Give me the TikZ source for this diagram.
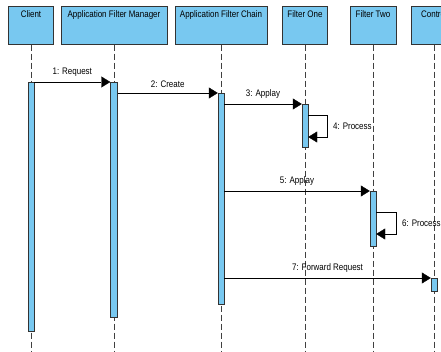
\documentclass[tikz,border=0pt]{standalone}
\usepackage{fontspec}
\setmainfont[FakeStretch=0.84]{Liberation Sans}
\usetikzlibrary{arrows.meta}
\usetikzlibrary{positioning}
\definecolor{lifeblue}{RGB}{120,200,240}

\begin{document}
\begin{tikzpicture}[x=1pt,y=-1pt,>={Triangle[length=9pt,width=11pt]},font=\fontsize{9.5}{11}\selectfont]
 \tikzstyle{head node}=[rectangle,draw=black!80,fill=lifeblue,semithick,minimum height=38pt,inner xsep=2pt,inner ysep=0pt,text height=11.5pt,text depth=26.5pt,anchor=north]
 \tikzstyle{act node}=[rectangle,draw=black!80,fill=lifeblue,minimum width=6pt,inner sep=0pt,anchor=north]
 \tikzset{
 	life line/.style={draw=black!75,thin,dash pattern=on 6pt off 3pt},
 	msg/.style={->,draw=black,thin},
 	msg label/.style={above=4pt,inner sep=1pt},
 	loop label/.style={anchor=west,inner sep=1pt}
 }
 \useasboundingbox (0,0) rectangle (441,352);
 \clip (0,0) rectangle (441,352);

       \node[head node,minimum width=45pt] (client) at (31,6) {Client};
       \node[head node,minimum width=106pt] (manager) at (114,6) {Application Filter Manager};
       \node[head node,minimum width=92pt] (chain) at (221,6) {Application Filter Chain};
       \node[head node,minimum width=45pt] (one) at (305,6) {Filter One};
       \node[head node,minimum width=46pt] (two) at (373,6) {Filter Two};
       \node[head node,minimum width=45pt] (control) at (434,6) {Control};

     \foreach \obj in {client,manager,chain,one,two,control}
       \draw[life line] (\obj.south) -- (\obj.south |- 0,352);

       \node[act node,minimum height=249pt] (clientact) at (31,82) {};
       \node[act node,minimum width=7pt,minimum height=235pt] (manageract) at (114,82) {};
       \node[act node,minimum height=211pt] (chainact) at (221,93) {};
       \node[act node,minimum height=43pt] (oneact) at (305,104) {};
       \node[act node,minimum height=55pt] (twoact) at (373,191) {};
       \node[act node,minimum height=13pt] (controlact) at (434,278) {};

     \draw[msg] (clientact.north east) -- node[msg label] {1: Request} (manageract.north west);
     \draw[msg] (manageract.east |- chainact.north) -- node[msg label] {2: Create} (chainact.north west);
     \draw[msg] (chainact.east |- oneact.north) -- node[msg label] {3: Applay} (oneact.north west);
     \draw[msg] (oneact.east |- 0,115) -- (327,115) -- node[loop label,right=5pt] {4: Process} (327,137) -- (oneact.east |- 0,137);
     \draw[msg] (chainact.east |- twoact.north) -- node[msg label] {5: Applay} (twoact.north west);
     \draw[msg] (twoact.east |- 0,212) -- (396,212) -- node[loop label,right=5pt] {6: Process} (396,234) -- (twoact.east |- 0,234);
     \draw[msg] (chainact.east |- controlact.north) -- node[msg label] {7: Forward Request} (controlact.north west);
 \end{tikzpicture}
\end{document}
